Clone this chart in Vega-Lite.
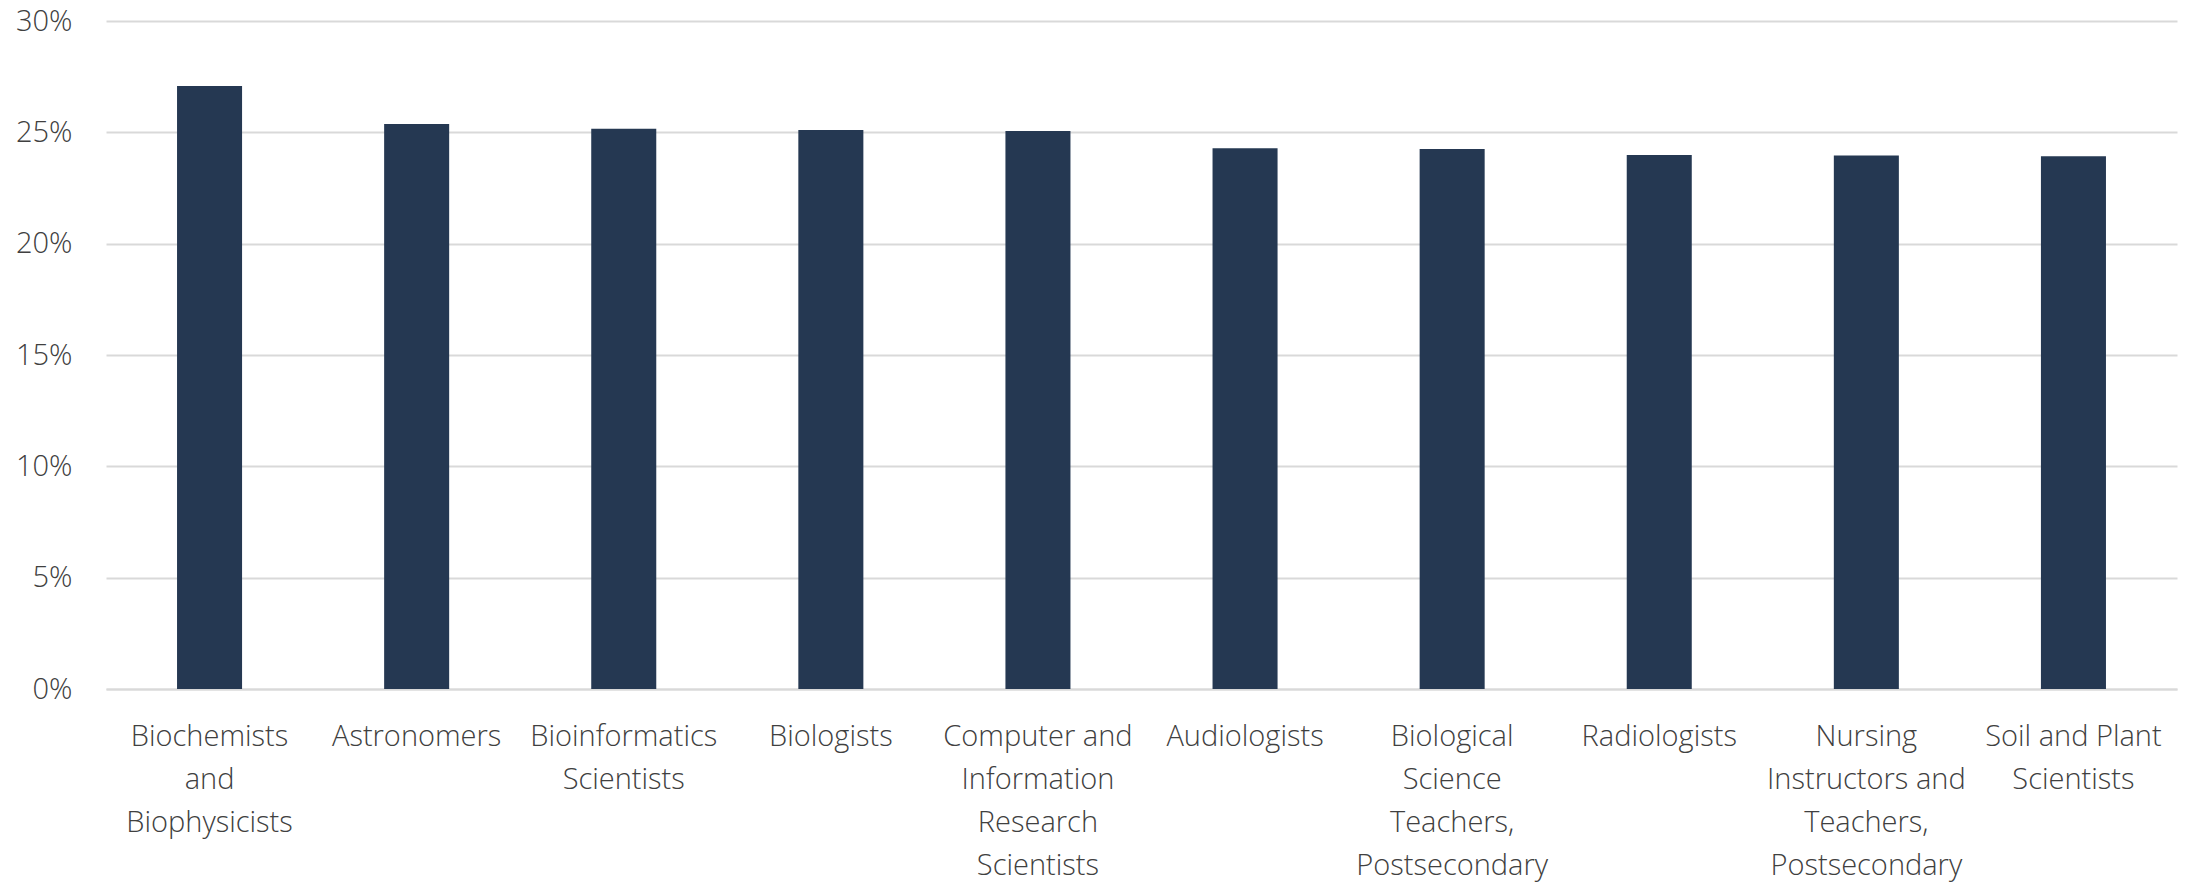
{
  "$schema": "https://vega.github.io/schema/vega-lite/v6.json",
  "autosize": {"type": "none"},
  "width": 2071,
  "height": 668,
  "padding": {"left": 106, "top": 21, "right": 13, "bottom": 193},
  "background": "#ffffff",
  "data": {
    "values": [
      {"occupation": "Biochemists and Biophysicists", "share": 0.2708},
      {"occupation": "Astronomers", "share": 0.2537},
      {"occupation": "Bioinformatics Scientists", "share": 0.2516},
      {"occupation": "Biologists", "share": 0.2510},
      {"occupation": "Computer and Information Research Scientists", "share": 0.2506},
      {"occupation": "Audiologists", "share": 0.2428},
      {"occupation": "Biological Science Teachers, Postsecondary", "share": 0.2425},
      {"occupation": "Radiologists", "share": 0.2398},
      {"occupation": "Nursing Instructors and Teachers, Postsecondary", "share": 0.2396},
      {"occupation": "Soil and Plant Scientists", "share": 0.2393}
    ]
  },
  "mark": {"type": "bar", "color": "#253852"},
  "encoding": {
    "x": {
      "field": "occupation",
      "type": "nominal",
      "sort": null,
      "title": null,
      "scale": {"paddingInner": 0.686, "paddingOuter": 0.343},
      "axis": {
        "labelAngle": 0,
        "labelAlign": "center",
        "labelBaseline": "top",
        "labelPadding": 33,
        "labelFont": "Open Sans",
        "labelFontWeight": 300,
        "labelFontSize": 29,
        "labelLineHeight": 43,
        "labelColor": "#404040",
        "labelLimit": 0,
        "ticks": false,
        "domainColor": "#d9d9d9",
        "domainWidth": 2,
        "labelExpr": "datum.value == 'Biochemists and Biophysicists' ? ['Biochemists', 'and', 'Biophysicists'] : datum.value == 'Bioinformatics Scientists' ? ['Bioinformatics', 'Scientists'] : datum.value == 'Computer and Information Research Scientists' ? ['Computer and', 'Information', 'Research', 'Scientists'] : datum.value == 'Biological Science Teachers, Postsecondary' ? ['Biological', 'Science', 'Teachers,', 'Postsecondary'] : datum.value == 'Nursing Instructors and Teachers, Postsecondary' ? ['Nursing', 'Instructors and', 'Teachers,', 'Postsecondary'] : datum.value == 'Soil and Plant Scientists' ? ['Soil and Plant', 'Scientists'] : datum.value"
      }
    },
    "y": {
      "field": "share",
      "type": "quantitative",
      "title": null,
      "scale": {"domain": [0, 0.3], "nice": false},
      "axis": {
        "values": [0, 0.05, 0.1, 0.15, 0.2, 0.25, 0.3],
        "format": ".0%",
        "labelFont": "Open Sans",
        "labelFontWeight": 300,
        "labelFontSize": 29,
        "labelColor": "#404040",
        "labelPadding": 34,
        "ticks": false,
        "domain": false,
        "grid": true,
        "gridColor": "#d9d9d9",
        "gridWidth": 2
      }
    }
  },
  "config": {"view": {"stroke": null}}
}
